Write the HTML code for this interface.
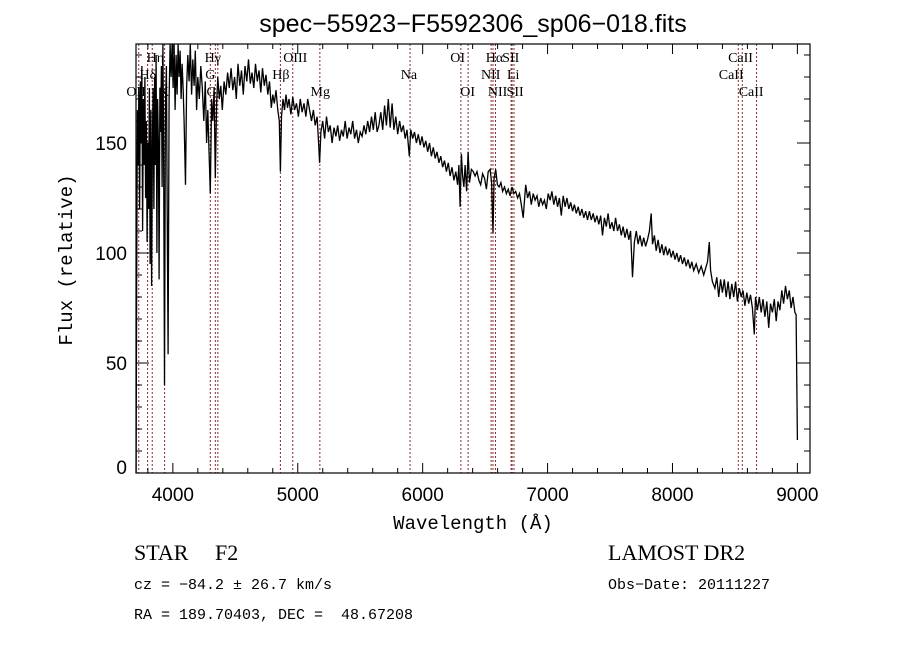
<!DOCTYPE html>
<html><head><meta charset="utf-8">
<style>
html,body{margin:0;padding:0;background:#fff;}
svg{display:block;}
text{white-space:pre;}
.t{font-family:"Liberation Sans",sans-serif;}
.s{font-family:"Liberation Serif",serif;}
.m{font-family:"Liberation Mono",monospace;}
</style></head>
<body>
<svg id="chart" width="900" height="649" viewBox="0 0 900 649">
<rect width="900" height="649" fill="#fff"/>
<text class="t" x="473" y="32" font-size="25" text-anchor="middle">spec−55923−F5592306_sp06−018.fits</text>
<g id="lines"></g>
<g id="labels"></g>
<g id="ticks"></g>
<path id="spec" fill="none" stroke="#000" stroke-width="1.3"/>
<rect x="136" y="44" width="674" height="429" fill="none" stroke="#000" stroke-width="1.2"/>
<text class="m" x="473" y="529" font-size="19" text-anchor="middle">Wavelength (Å)</text>
<text class="m" x="72" y="260" font-size="19" text-anchor="middle" transform="rotate(-90 72 260)">Flux (relative)</text>
<text class="s" x="134" y="560" font-size="22">STAR</text>
<text class="s" x="215" y="560" font-size="22">F2</text>
<text class="s" x="608" y="560" font-size="22">LAMOST DR2</text>
<text class="m" x="134" y="589" font-size="15">cz = −84.2 ± 26.7 km/s</text>
<text class="m" x="608" y="589" font-size="15">Obs−Date: 20111227</text>
<text class="m" x="134" y="619" font-size="15">RA = 189.70403, DEC =  48.67208</text>
</svg>
<script>
const wave = [3706,3710,3716,3722,3728,3734,3740,3746,3752,3758,3764,3770,3776,3782,3788,3794,3800,3806,3812,3818,3824,3830,3836,3842,3848,3854,3860,3866,3872,3878,3884,3890,3896,3902,3908,3914,3920,3926,3933,3940,3948,3955,3962,3970,3978,3986,3994,4002,4010,4018,4026,4034,4042,4050,4058,4066,4074,4082,4090,4101,4110,4120,4130,4140,4150,4160,4170,4180,4190,4200,4212,4224,4236,4248,4260,4270,4280,4290,4300,4310,4320,4330,4340,4350,4360,4372,4384,4396,4410,4424,4438,4452,4466,4480,4494,4508,4522,4536,4550,4564,4578,4592,4606,4620,4634,4648,4662,4676,4690,4704,4718,4732,4746,4760,4774,4788,4800,4812,4826,4840,4852,4861,4870,4882,4894,4906,4918,4930,4945,4960,4975,4990,5005,5020,5035,5050,5065,5080,5095,5110,5125,5140,5155,5167,5175,5185,5200,5215,5230,5245,5260,5275,5290,5305,5320,5335,5350,5365,5380,5395,5410,5425,5440,5455,5470,5485,5500,5515,5530,5545,5560,5575,5590,5605,5620,5635,5650,5665,5680,5695,5710,5725,5740,5755,5770,5785,5800,5815,5830,5845,5860,5875,5893,5905,5920,5935,5950,5965,5980,5995,6010,6025,6040,6055,6070,6085,6100,6115,6130,6145,6160,6175,6190,6205,6220,6235,6250,6265,6280,6290,6300,6310,6320,6330,6340,6352,6364,6375,6390,6405,6420,6435,6450,6465,6480,6495,6510,6525,6540,6552,6563,6572,6585,6598,6612,6626,6640,6655,6670,6685,6700,6715,6730,6745,6760,6775,6790,6805,6815,6825,6840,6855,6870,6885,6900,6915,6930,6945,6960,6975,6990,7005,7020,7035,7050,7065,7080,7095,7110,7125,7140,7155,7170,7185,7200,7215,7230,7245,7260,7275,7290,7305,7320,7335,7350,7365,7380,7395,7410,7425,7440,7455,7470,7485,7500,7515,7530,7545,7560,7575,7590,7605,7620,7635,7650,7665,7680,7695,7710,7725,7740,7755,7770,7785,7800,7815,7830,7840,7855,7870,7885,7900,7915,7930,7945,7960,7975,7990,8005,8020,8035,8050,8065,8080,8095,8110,8125,8140,8155,8170,8190,8210,8230,8250,8265,8280,8295,8305,8320,8340,8355,8370,8385,8400,8415,8430,8445,8460,8475,8490,8505,8520,8535,8550,8565,8580,8595,8610,8625,8640,8655,8665,8680,8695,8710,8725,8740,8755,8770,8785,8800,8815,8830,8845,8860,8875,8890,8905,8920,8935,8950,8965,8980,8990,9000];
const flux = [0,80,165,140,175,120,178,150,185,110,170,140,180,125,160,105,150,120,175,95,165,85,150,175,120,180,140,190,100,170,150,88,175,155,185,130,198,150,40,165,185,120,54,170,195,180,200,175,195,165,190,172,198,180,192,170,186,175,160,131,175,190,178,195,172,188,176,192,165,180,170,185,175,160,178,150,165,145,127,170,160,175,134,168,180,170,176,165,178,172,182,175,184,174,180,170,186,176,183,172,185,178,188,177,182,175,186,178,183,173,184,176,181,172,178,166,172,168,174,165,160,137,162,170,165,172,166,170,163,171,165,168,162,170,164,168,162,170,165,160,165,158,162,150,141,155,160,152,162,155,158,150,157,153,158,151,156,153,160,152,157,154,160,152,156,150,155,153,158,154,160,155,162,156,164,155,158,164,156,167,158,170,157,168,156,162,154,160,155,158,152,156,144,156,152,155,150,154,149,153,148,151,146,150,144,148,143,146,141,144,139,142,137,141,135,139,133,137,131,140,121,145,135,130,140,128,146,132,138,137,135,137,133,131,136,134,129,137,138,132,109,134,138,131,130,132,128,130,127,129,126,130,127,128,125,127,122,116,124,131,125,128,122,127,124,126,121,125,122,124,120,127,124,128,122,126,121,125,117,126,121,125,120,123,119,122,118,121,117,120,116,119,115,119,115,118,114,117,113,117,108,116,112,118,111,114,110,116,110,113,108,112,107,111,106,110,89,105,110,104,108,103,107,103,106,110,118,104,108,101,106,100,104,99,103,99,102,98,101,97,100,96,99,95,98,94,97,93,96,92,95,91,94,90,93,96,105,92,87,84,89,80,88,82,88,80,87,79,86,80,87,78,84,80,83,76,82,77,81,75,63,80,74,80,73,79,71,78,66,77,73,79,69,78,74,83,77,85,79,83,75,80,73,72,15];
const lineWaves = [3727,3798,3835,3934,4300,4340,4360,4861,4960,5177,5899,6306,6364,6548,6563,6583,6708,6716,6731,8527,8559,8673];
const labelText = ["OII","Hη","Hδ","K","Hγ","G","G","Hβ","OIII","Mg","Na","OI","OI","Hα","NII","NII","SII","Li","SII","CaII","CaII","CaII"];
const labelWave = [3706,3860,3800,3930,4320,4300,4310,4865,4980,5180,5890,6280,6360,6575,6545,6600,6705,6725,6740,8545,8470,8630];
const labelRow = [3,1,2,3,1,2,3,2,1,3,2,1,3,1,2,3,1,2,3,1,2,3];
const xTicks = [4000,5000,6000,7000,8000,9000];
const yTicks = [0,50,100,150];

const X0=136,X1=810,Y0=44,Y1=473, WMIN=3705, WMAX=9101, FMIN=0, FMAX=195;
const xs = w => X0 + (w-WMIN)/(WMAX-WMIN)*(X1-X0);
const ys = f => Y1 - (f-FMIN)/(FMAX-FMIN)*(Y1-Y0);
const NS="http://www.w3.org/2000/svg";
function mk(tag, attrs, parent){const e=document.createElementNS(NS,tag);for(const k in attrs)e.setAttribute(k,attrs[k]);parent.appendChild(e);return e;}

let d="";
for(let i=0;i<wave.length;i++){d+=(i?"L":"M")+xs(wave[i]).toFixed(1)+" "+Math.min(Y1,Math.max(Y0,ys(flux[i]))).toFixed(1);}
document.getElementById("spec").setAttribute("d",d);

const gl=document.getElementById("lines");
lineWaves.forEach(w=>{
  const l=mk("line",{x1:xs(w),x2:xs(w),y1:Y0,y2:Y1,stroke:"#8b2a2a","stroke-width":1,"stroke-dasharray":"2,2"},gl);
  
  
});
const glab=document.getElementById("labels");
const rowY=[0,62,79,96];
labelText.forEach((t,i)=>{
  const e=mk("text",{x:xs(labelWave[i]),y:rowY[labelRow[i]],"font-size":14,"text-anchor":"middle","class":"s"},glab);
  e.textContent=t;
  
  
});

const gt=document.getElementById("ticks");
for(let w=3800;w<=9100;w+=200){
  const major = w%1000===0, len = major?10:5;
  mk("line",{x1:xs(w),x2:xs(w),y1:Y1,y2:Y1-len,stroke:"#000","stroke-width":1},gt);
  mk("line",{x1:xs(w),x2:xs(w),y1:Y0,y2:Y0+len,stroke:"#000","stroke-width":1},gt);
}
xTicks.forEach(w=>{
  const e=mk("text",{x:xs(w),y:501,"font-size":19,"text-anchor":"middle","class":"t"},gt);
  e.textContent=w;
  
  
});
for(let f=0;f<=190;f+=10){
  const major=f%50===0, len=major?13:6;
  mk("line",{x1:X0,x2:X0+len,y1:ys(f),y2:ys(f),stroke:"#000","stroke-width":1},gt);
  mk("line",{x1:X1,x2:X1-len,y1:ys(f),y2:ys(f),stroke:"#000","stroke-width":1},gt);
}
yTicks.forEach(f=>{
  const e=mk("text",{x:127,y:Math.min(ys(f)+7,474),"font-size":19,"text-anchor":"end","class":"t"},gt);
  e.textContent=f;
  
  
});
</script>
</body></html>
